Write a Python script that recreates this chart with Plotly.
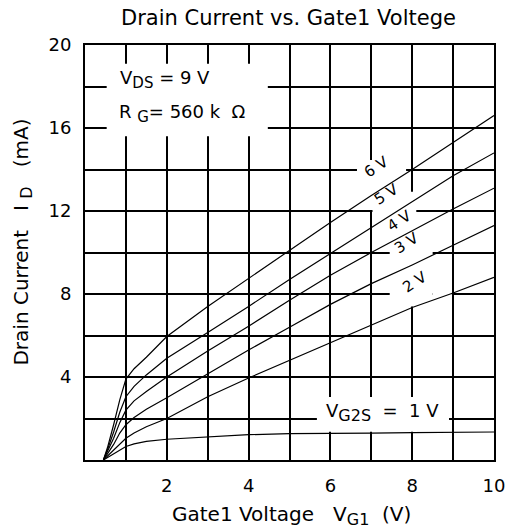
import plotly.graph_objects as go

# ---- data ----
vg1 = [0.45, 0.55, 0.7, 0.85, 1.0, 1.2, 1.5, 2, 3, 4, 5, 6, 7, 8, 9, 10]
id_6v = [0, 0.6, 1.7, 2.9, 3.9, 4.4, 4.95, 5.95, 7.4, 8.75, 10.1, 11.45, 12.75, 14.0, 15.3, 16.6]
id_5v = [0, 0.5, 1.35, 2.3, 3.05, 3.55, 4.1, 4.9, 6.15, 7.4, 8.7, 9.95, 11.2, 12.45, 13.7, 14.8]
id_4v = [0, 0.4, 1.05, 1.8, 2.4, 2.85, 3.3, 4.0, 5.25, 6.45, 7.7, 8.9, 10.0, 11.05, 12.1, 13.1]
id_3v = [0, 0.3, 0.75, 1.3, 1.7, 2.05, 2.45, 3.0, 4.15, 5.3, 6.4, 7.5, 8.5, 9.4, 10.35, 11.3]
id_2v = [0, 0.2, 0.5, 0.8, 1.05, 1.3, 1.6, 2.0, 3.05, 3.95, 4.8, 5.65, 6.5, 7.35, 8.05, 8.8]
id_1v = [0, 0.12, 0.3, 0.5, 0.65, 0.78, 0.9, 1.0, 1.12, 1.22, 1.27, 1.3, 1.3, 1.32, 1.33, 1.35]

series = [("6 V", id_6v), ("5 V", id_5v), ("4 V", id_4v), ("3 V", id_3v), ("2 V", id_2v), ("1 V", id_1v)]

x_ticks = list(range(0, 11))
x_ticktext = ["" if (v % 2 or v == 0) else str(v) for v in x_ticks]
y_ticks = list(range(0, 21, 2))
y_ticktext = ["" if (v % 4 or v == 0) else str(v) for v in y_ticks]

# curve labels: (text, x, y)
curve_labels = [("6 V", 7.12, 14.1), ("5 V", 7.38, 12.8), ("4 V", 7.68, 11.5),
                ("3 V", 7.86, 10.45), ("2 V", 8.06, 8.6)]

FONT = "DejaVu Sans, Verdana, sans-serif"

fig = go.Figure()
for name, ys in series:
    fig.add_trace(go.Scatter(x=vg1, y=ys, mode="lines", name=name,
                             line=dict(color="black", width=1.2), showlegend=False,
                             hoverinfo="skip"))

# white boxes that interrupt the grid behind labels (between grid and traces)
boxes = [
    (0.53, 4.47, 15.6, 19.1),
    (5.67, 8.9, 1.36, 3.04),
    (6.65, 7.85, 12.05, 14.46),
    (7.03, 8.1, 11.0, 12.93),
    (7.45, 8.5, 7.4, 11.0),
    (8.5, 8.97, 7.6, 8.4),
]
for x0, x1, y0, y1 in boxes:
    fig.add_shape(type="rect", x0=x0, x1=x1, y0=y0, y1=y1, xref="x", yref="y",
                  fillcolor="white", line=dict(width=0), layer="between")

def txt(size):
    return dict(size=size, color="black", family=FONT)

def sub(s, px=15):
    return f"<sub><span style='font-size:{px}px'>{s}</span></sub>"

ann = []
ann.append(dict(text="Drain Current vs. Gate1 Voltege", x=0.498, y=1.064, xref="paper", yref="paper",
                showarrow=False, font=txt(21), xanchor="center", yanchor="middle"))
ann.append(dict(text="Gate1 Voltage &nbsp;&nbsp;V" + sub("G1", 16) + "&nbsp; (V)", x=0.505, y=-0.133,
                xref="paper", yref="paper", showarrow=False, font=txt(20),
                xanchor="center", yanchor="middle"))
ann.append(dict(text="Drain Current &nbsp;&nbsp;I&nbsp;" + sub("D", 16) + "&nbsp;&nbsp; (mA)", x=-0.153, y=0.525,
                xref="paper", yref="paper", showarrow=False, textangle=-90, font=txt(20),
                xanchor="center", yanchor="middle"))
ann.append(dict(text="0", x=-0.24, y=-0.72, xref="x", yref="y", showarrow=False,
                font=txt(18), xanchor="center", yanchor="middle"))
ann.append(dict(text="V" + sub("DS") + " = 9 V", x=0.8, y=18.35, xref="x", yref="y", showarrow=False,
                font=txt(18), xanchor="left", yanchor="middle"))
ann.append(dict(text="R " + sub("G") + "= 560 k &nbsp;Ω", x=0.78, y=16.7, xref="x", yref="y",
                showarrow=False, font=txt(18), xanchor="left", yanchor="middle"))
ann.append(dict(text="V" + sub("G2S", 16) + " &nbsp;= &nbsp;1 V", x=5.85, y=2.3, xref="x", yref="y",
                showarrow=False, font=txt(18), xanchor="left", yanchor="middle"))
for t, lx, ly in curve_labels:
    ann.append(dict(text=t, x=lx, y=ly, xref="x", yref="y", showarrow=False, textangle=-33,
                    font=txt(15), xanchor="center", yanchor="middle"))

fig.update_layout(
    width=517, height=531,
    margin=dict(l=85, r=14, t=45, b=71),
    paper_bgcolor="white", plot_bgcolor="white",
    font=dict(family=FONT, size=18, color="black"),
    annotations=ann,
)
fig.update_xaxes(range=[0, 10], tickvals=x_ticks, ticktext=x_ticktext, showgrid=True,
                 gridcolor="black", gridwidth=2, showline=True, linecolor="black", linewidth=2,
                 mirror=True, zeroline=False, ticks="", ticklabelstandoff=8,
                 tickfont=txt(18))
fig.update_yaxes(range=[0, 20], tickvals=y_ticks, ticktext=y_ticktext, showgrid=True,
                 gridcolor="black", gridwidth=2, showline=True, linecolor="black", linewidth=2,
                 mirror=True, zeroline=False, ticks="", ticklabelstandoff=8,
                 tickfont=txt(18))

fig.write_html("out.html")
